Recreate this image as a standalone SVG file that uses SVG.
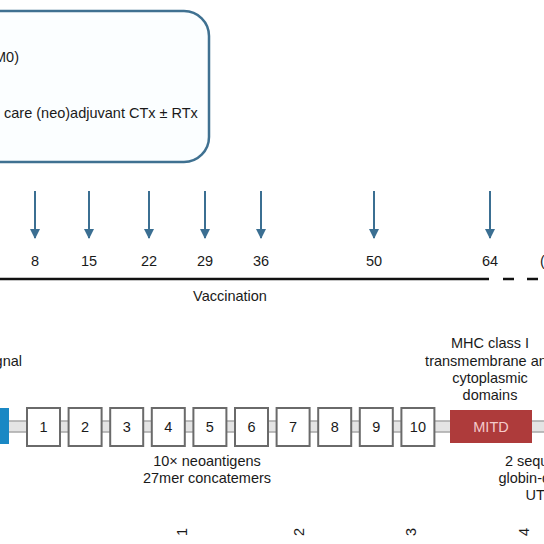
<svg xmlns="http://www.w3.org/2000/svg" width="544" height="544" viewBox="0 0 544 544">
<style>
text{font-family:"Liberation Sans",Arial,sans-serif;font-size:14.5px;fill:#1a1a1a}
.c{text-anchor:middle}
.arr{stroke:#3b6f92;stroke-width:2}
.box rect{fill:#fff;stroke:#6a6a6a;stroke-width:2}
</style>
<defs>
<marker id="ah" viewBox="0 0 10 10" refX="9" refY="5" markerWidth="5" markerHeight="5" orient="auto" markerUnits="strokeWidth">
<path d="M0,0 L10,5 L0,10 z" fill="#3b6f92"/>
</marker>
</defs>
<rect width="544" height="544" fill="#fff"/>
<g id="treatment-box">
<rect x="-40" y="11" width="249" height="151" rx="25" fill="#fbfeff" stroke="#3f7191" stroke-width="2.5"/>
<text x="19" y="62" text-anchor="end">M0)</text>
<text x="4" y="118">care (neo)adjuvant CTx ± RTx</text>
</g>
<g id="connectors">
<line class="arr" x1="35" y1="191" x2="35" y2="238" marker-end="url(#ah)"/>
<line class="arr" x1="89" y1="191" x2="89" y2="238" marker-end="url(#ah)"/>
<line class="arr" x1="149" y1="191" x2="149" y2="238" marker-end="url(#ah)"/>
<line class="arr" x1="205" y1="191" x2="205" y2="238" marker-end="url(#ah)"/>
<line class="arr" x1="261" y1="191" x2="261" y2="238" marker-end="url(#ah)"/>
<line class="arr" x1="374" y1="191" x2="374" y2="238" marker-end="url(#ah)"/>
<line class="arr" x1="490" y1="191" x2="490" y2="238" marker-end="url(#ah)"/>
</g>
<g id="timeline">
<line x1="0" y1="279" x2="489" y2="279" stroke="#111" stroke-width="2.5"/>
<line x1="503" y1="279" x2="544" y2="279" stroke="#111" stroke-width="2.5" stroke-dasharray="11 13"/>
<text class="c" x="35" y="266">8</text>
<text class="c" x="89" y="266">15</text>
<text class="c" x="149" y="266">22</text>
<text class="c" x="205" y="266">29</text>
<text class="c" x="261" y="266">36</text>
<text class="c" x="374" y="266">50</text>
<text class="c" x="490" y="266">64</text>
<text x="540" y="266">(</text>
<text class="c" x="230" y="301">Vaccination</text>
</g>
<g id="backbone">
<rect x="-5" y="421" width="560" height="11" fill="#e4e4e4" stroke="#a8a8a8" stroke-width="1.5"/>
</g>
<g id="signal">
<rect x="-10" y="408" width="19" height="36" fill="#1a88c4"/>
<text x="22" y="366" text-anchor="end">gnal</text>
</g>
<g id="neoantigens" class="box">
<rect x="27" y="408" width="33" height="38"/><text class="c" x="43.5" y="432">1</text>
<rect x="68.6" y="408" width="33" height="38"/><text class="c" x="85.1" y="432">2</text>
<rect x="110.2" y="408" width="33" height="38"/><text class="c" x="126.7" y="432">3</text>
<rect x="151.8" y="408" width="33" height="38"/><text class="c" x="168.3" y="432">4</text>
<rect x="193.4" y="408" width="33" height="38"/><text class="c" x="209.9" y="432">5</text>
<rect x="235" y="408" width="33" height="38"/><text class="c" x="251.5" y="432">6</text>
<rect x="276.6" y="408" width="33" height="38"/><text class="c" x="293.1" y="432">7</text>
<rect x="318.2" y="408" width="33" height="38"/><text class="c" x="334.7" y="432">8</text>
<rect x="359.8" y="408" width="33" height="38"/><text class="c" x="376.3" y="432">9</text>
<rect x="401.4" y="408" width="33" height="38"/><text class="c" x="417.9" y="432">10</text>
<text class="c" x="207" y="466">10× neoantigens</text>
<text class="c" x="207" y="483">27mer concatemers</text>
</g>
<g id="mitd">
<rect x="450" y="410" width="82" height="33" fill="#ae3b3b"/>
<text class="c" x="491" y="432" style="fill:#f4caca">MITD</text>
<text class="c" x="490" y="348">MHC class I</text>
<text class="c" x="490" y="366">transmembrane and</text>
<text class="c" x="490" y="383">cytoplasmic</text>
<text class="c" x="490" y="400">domains</text>
</g>
<g id="utr">
<text class="c" x="544" y="466">2 sequential</text>
<text class="c" x="544" y="483">globin-derived</text>
<text class="c" x="544" y="500">UTRs</text>
</g>
<g id="axis-labels">
<text class="c" transform="translate(182,532) rotate(-90)" y="5">1</text>
<text class="c" transform="translate(299,532) rotate(-90)" y="5">2</text>
<text class="c" transform="translate(411,532) rotate(-90)" y="5">3</text>
<text class="c" transform="translate(524,532) rotate(-90)" y="5">4</text>
</g>
</svg>
